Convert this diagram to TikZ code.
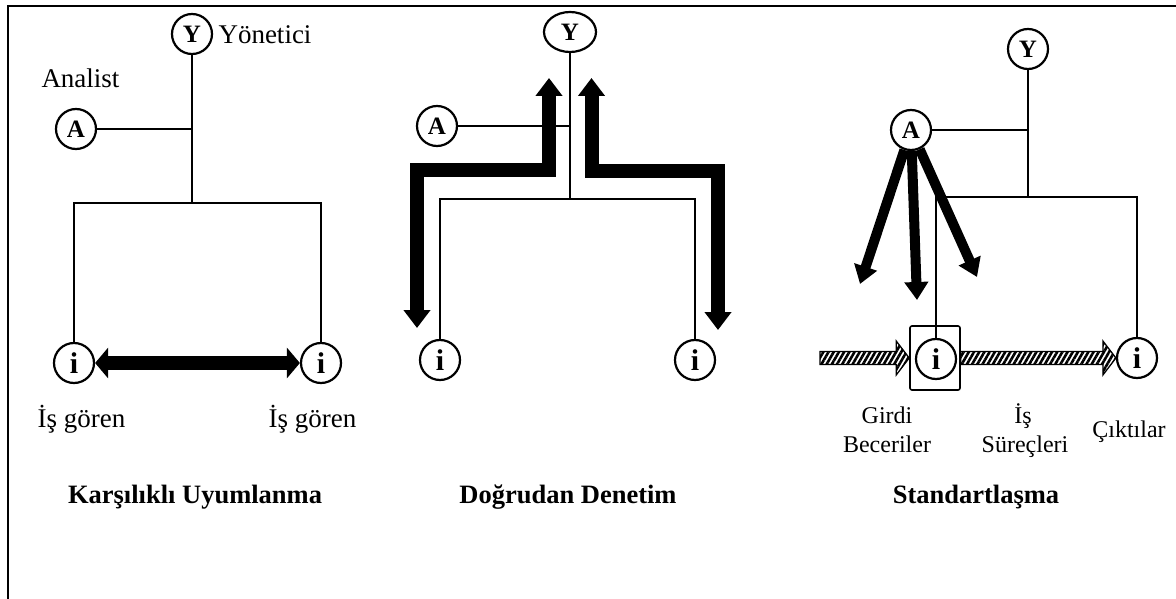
\documentclass[tikz,border=0pt]{standalone}
\usepackage{fontspec}
\setmainfont{Liberation Serif}
\usetikzlibrary{arrows.meta,shapes.geometric,patterns.meta,calc}

\tikzset{
  lbl/.style={font=\fontsize{27}{30}\selectfont, inner sep=0pt, anchor=base},
  sublbl/.style={font=\fontsize{24}{28}\selectfont, inner sep=0pt, anchor=base},
  ttl/.style={font=\bfseries\fontsize{26.5}{30}\selectfont, inner sep=0pt, anchor=base},
  role/.style={circle, draw, line width=2.2pt, minimum size=40pt, inner sep=0pt,
    font=\bfseries\fontsize{25}{27}\selectfont},
  worker/.style={role, font=\bfseries\fontsize{30}{32}\selectfont},
  link/.style={line width=2.8pt},
  thinlink/.style={line width=2.2pt},
  flow/.style={line width=14pt, line join=miter,
    {Triangle[width=26pt,length=18pt]}-{Triangle[width=26pt,length=18pt]}},
  mutual/.style={line width=14pt,
    {Triangle[width=30pt,length=13pt]}-{Triangle[width=30pt,length=13pt]}},
  push/.style={line width=10pt, -{Triangle[width=23pt,length=18pt]}},
  hatch/.style={draw, line width=1.3pt, line join=miter,
    pattern={Lines[angle=60,distance=4.5pt,line width=2.6pt]}}
}

% hatched flow arrow from #1 to #2 (horizontal)
\newcommand{\hatchedarrow}[2]{%
  \path[hatch] ($(#1)+(0,-6.5)$) -- ($(#2)+(-13,-6.5)$) -- ($(#2)+(-13,-17)$)
    -- (#2) -- ($(#2)+(-13,17)$) -- ($(#2)+(-13,6.5)$) -- ($(#1)+(0,6.5)$) -- cycle;}

\begin{document}
\begin{tikzpicture}[x=1pt,y=-1pt]
\useasboundingbox (0,0) rectangle (1176,599);

% frame
\draw[line width=2.2pt, line join=miter] (7.8,599) -- (7.8,6) -- (1176,6);

% ---------- Karşılıklı Uyumlanma ----------
\node[role] (Y1) at (192,34) {Y};
\node[role] (A1) at (76,129) {A};
\coordinate (j1) at (192,129);
\coordinate (t1) at (192,203);
\coordinate (l1) at (74,203);
\coordinate (r1) at (321,203);
\node[worker] (i1L) at (74,363) {i};
\node[worker] (i1R) at (321,363) {i};
\draw[link] (Y1) -- (t1);
\draw[link] (A1) -- (j1);
\draw[link, line join=miter] (i1L) -- (l1) -- (r1) -- (i1R);
\draw[mutual] (i1L.east) -- (i1R.west);
\node[lbl] (ynt) at (265,44) {Yönetici};
\node[lbl] (anl) at (80.5,88) {Analist};
\node[lbl] (ig1) at (81.5,427) {İş gören};
\node[lbl] (ig2) at (312.5,427) {İş gören};
\node[ttl] (t1txt) at (195,503) {Karşılıklı Uyumlanma};

% ---------- Doğrudan Denetim ----------
\coordinate (u1) at (549,78);
\coordinate (u1a) at (549,170);
\coordinate (u1b) at (417,170);
\coordinate (d1) at (417,328);
\coordinate (u2) at (591.5,78);
\coordinate (u2a) at (591.5,171);
\coordinate (u2b) at (718,171);
\coordinate (d2) at (718,330);
\draw[flow] (u1) -- (u1a) -- (u1b) -- (d1);
\draw[flow] (u2) -- (u2a) -- (u2b) -- (d2);
\node[role, ellipse, minimum width=52pt, minimum height=40pt] (Y2) at (570,32) {Y};
\node[role] (A2) at (437,126) {A};
\coordinate (j2) at (570,126);
\coordinate (t2) at (570,199);
\coordinate (l2) at (440,199);
\coordinate (r2) at (695,199);
\node[worker] (i2L) at (440,360) {i};
\node[worker] (i2R) at (695,360) {i};
\draw[thinlink] (Y2) -- (t2);
\draw[thinlink] (A2) -- (j2);
\draw[thinlink, line join=miter] (i2L) -- (l2) -- (r2) -- (i2R);
\node[ttl] (t2txt) at (568,503) {Doğrudan Denetim};

% ---------- Standartlaşma ----------
\node[role] (Y3) at (1028,49) {Y};
\node[role] (A3) at (911,130) {A};
\coordinate (j3) at (1028,130);
\coordinate (t3) at (1028,197);
\coordinate (l3) at (936,197);
\coordinate (r3) at (1137,197);
\node[draw, line width=1.6pt, rounded corners=2pt, minimum width=50pt,
  minimum height=64pt, inner sep=0pt] (box) at (935,358) {};
\node[worker] (i3L) at (936,359) {i};
\node[worker] (i3R) at (1137,358) {i};
\draw[thinlink] (Y3) -- (t3);
\draw[thinlink] (A3) -- (j3);
\draw[thinlink, line join=miter] (i3L) -- (l3) -- (r3) -- (i3R);
\coordinate (p1) at (860,284);
\coordinate (p2) at (917,300);
\coordinate (p3) at (977,277);
\draw[push] (A3) -- (p1);
\draw[push] (A3) -- (p2);
\draw[push] (A3) -- (p3);
\coordinate (inp) at (820,358);
\hatchedarrow{inp}{box.west}
\hatchedarrow{box.east}{i3R.west}
\node[sublbl] (gir) at (887,423) {Girdi};
\node[sublbl] (bec) at (887,452) {Beceriler};
\node[sublbl] (is) at (1023,423) {İş};
\node[sublbl] (sur) at (1025,452) {Süreçleri};
\node[sublbl] (cik) at (1129,437) {Çıktılar};
\node[ttl] (t3txt) at (976,503) {Standartlaşma};
\end{tikzpicture}
\end{document}
